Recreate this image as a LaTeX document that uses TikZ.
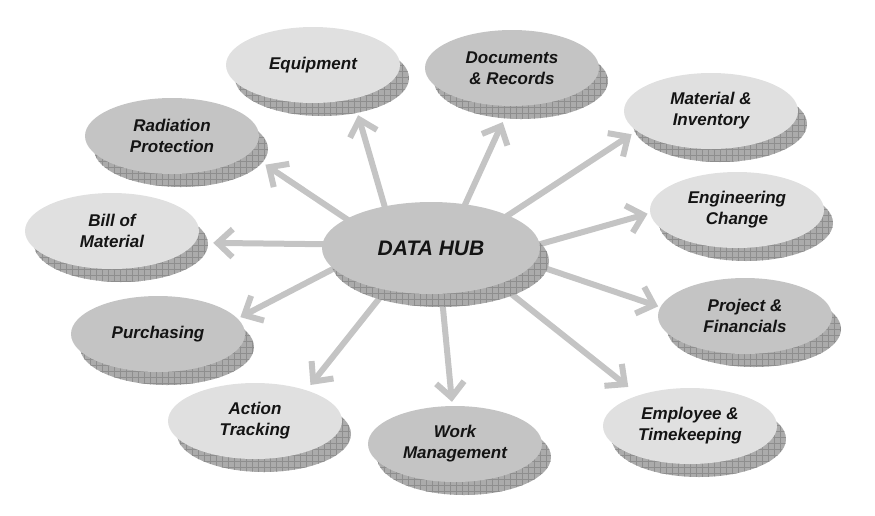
\documentclass[tikz,border=0pt]{standalone}
\usepackage{fontspec}
\setmainfont{Liberation Sans}
\usetikzlibrary{arrows.meta,patterns.meta,calc,shapes.geometric,backgrounds}
\definecolor{lightfill}{HTML}{E0E0E0}
\definecolor{darkfill}{HTML}{C4C4C4}
\definecolor{shadefill}{HTML}{ABABAB}
\definecolor{shadeline}{HTML}{8E8E8E}
\definecolor{arrowgray}{HTML}{C4C4C4}
\definecolor{textgray}{HTML}{141414}
\tikzset{
  bub/.style={ellipse, inner sep=0pt, minimum width=174pt, minimum height=76pt,
    align=center, text=textgray, font=\fontsize{17}{21}\selectfont\bfseries\itshape},
  lightbub/.style={bub, fill=lightfill},
  darkbub/.style={bub, fill=darkfill},
  hubbub/.style={darkbub, minimum width=218pt, minimum height=92pt,
    font=\fontsize{21}{25}\selectfont\bfseries\itshape},
  shadowbub/.style={ellipse, inner sep=0pt, minimum width=174pt, minimum height=76pt,
    preaction={fill=shadefill},
    pattern={Lines[angle=0,distance=6pt,line width=0.7pt]}, pattern color=shadeline,
    postaction={pattern={Lines[angle=90,distance=6pt,line width=0.7pt]}, pattern color=shadeline}},
  hubshadow/.style={shadowbub, minimum width=218pt, minimum height=92pt},
  link/.style={draw=arrowgray, line width=6pt, -{Straight Barb[length=15pt,width=28pt]}, shorten <=-12pt},
}
\newcommand\bubble[4]{%
  \node[#3shadow] (#1-sh) at ($(#2)+(9,13)$) {};
  \node[#3] (#1) at (#2) {#4};
}
\tikzset{lightbubshadow/.style={shadowbub}, darkbubshadow/.style={shadowbub}, hubbubshadow/.style={hubshadow}}
\begin{document}
\begin{tikzpicture}[x=1pt,y=-1pt]
\useasboundingbox (0,0) rectangle (875,515);
\bubble{equip}{313,65}{lightbub}{Equipment}
\bubble{docs}{512,68}{darkbub}{Documents\\\& Records}
\bubble{mat}{711,111}{lightbub}{Material \&\\Inventory}
\bubble{eng}{737,210}{lightbub}{Engineering\\Change}
\bubble{proj}{745,316}{darkbub}{Project \&\\Financials}
\bubble{emp}{690,426}{lightbub}{Employee \&\\Timekeeping}
\bubble{work}{455,444}{darkbub}{Work\\Management}
\bubble{act}{255,421}{lightbub}{Action\\Tracking}
\bubble{purch}{158,334}{darkbub}{Purchasing}
\bubble{bill}{112,231}{lightbub}{Bill of\\Material}
\bubble{rad}{172,136}{darkbub}{Radiation\\Protection}
\bubble{hub}{431,248}{hubbub}{DATA HUB}
\begin{scope}[on background layer]
\draw[link, shorten >=17pt] (hub.138.1) -- (equip.320.2);
\draw[link, shorten >=17.5pt] (hub.52.4) -- (docs.267.3);
\draw[link, shorten >=6pt] (hub.23.1) -- (mat.195.9);
\draw[link, shorten >=2.6pt] (hub.2.6) -- (eng.182.8);
\draw[link, shorten >=2.2pt] (hub.351.1) -- (proj.174.4);
\draw[link, shorten >=13.2pt] (hub.332.4) -- (emp.149.6);
\draw[link, shorten >=4pt] (hub.283.3) -- (work.94.1);
\draw[link, shorten >=6.6pt] (hub.223.9) -- (act.31.2);
\draw[link, shorten >=3pt] (hub.192.7) -- (purch.11.1);
\draw[link, shorten >=18.2pt] (hub.178.4) -- (bill.352.0);
\draw[link, shorten >=19.6pt] (hub.161.7) -- (rad.347.1);
\end{scope}
\end{tikzpicture}
\end{document}
